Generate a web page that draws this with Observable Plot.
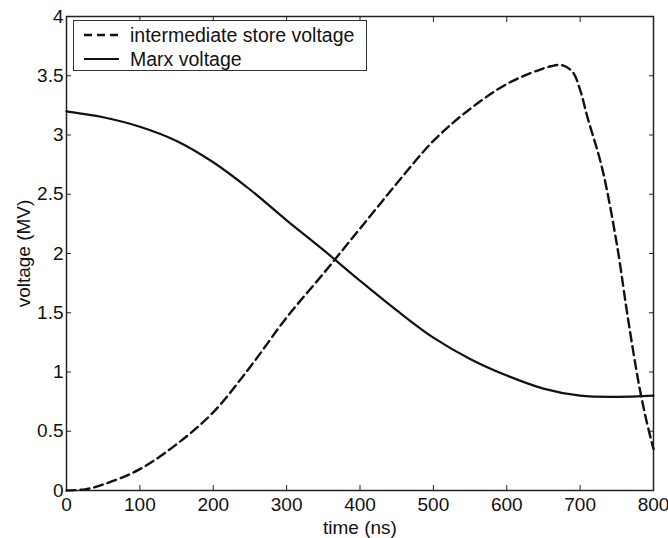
<!DOCTYPE html>
<html>
<head>
<meta charset="utf-8">
<script src="https://cdn.jsdelivr.net/npm/d3@7"></script>
<script src="https://cdn.jsdelivr.net/npm/@observablehq/plot@0.6"></script>
<style>
  html, body { margin: 0; padding: 0; background: #fff; }
  #wrap { position: relative; width: 668px; height: 538px; font-family: "Liberation Sans", Arial, sans-serif; }
  #legend { position: absolute; left: 73px; top: 20px; width: 294px; height: 51px; border: 1.5px solid #333; background: #fff; box-sizing: border-box; font-size: 19.5px; color: #111; }
  #legend .row { position: absolute; left: 0; height: 22px; display: flex; align-items: center; white-space: nowrap; }
  #legend svg { margin-left: 9px; margin-right: 11px; }
</style>
</head>
<body>
<div id="wrap"></div>
<script>
const storeTime = [0, 25, 50, 100, 150, 200, 250, 300, 350, 400, 450, 500, 550, 600, 640, 660, 675, 690, 700, 710, 730, 750, 765, 780, 790, 800];
const storeVoltage = [0, 0.01, 0.05, 0.18, 0.39, 0.66, 1.04, 1.46, 1.83, 2.21, 2.59, 2.95, 3.22, 3.43, 3.54, 3.58, 3.59, 3.53, 3.38, 3.15, 2.72, 2.08, 1.46, 0.9, 0.6, 0.35];
const marxTime = [0, 50, 100, 150, 200, 250, 300, 350, 400, 450, 500, 550, 600, 650, 700, 750, 800];
const marxVoltage = [3.2, 3.15, 3.07, 2.95, 2.77, 2.54, 2.28, 2.03, 1.77, 1.52, 1.29, 1.11, 0.97, 0.86, 0.80, 0.79, 0.80];
const xTicks = [0, 100, 200, 300, 400, 500, 600, 700, 800];
const yTicks = [0, 0.5, 1, 1.5, 2, 2.5, 3, 3.5, 4];
const yTickLabels = ["0", "0.5", "1", "1.5", "2", "2.5", "3", "3.5", "4"];
const seriesNames = ["intermediate store voltage", "Marx voltage"];

const store = storeTime.map((t, i) => ({t, v: storeVoltage[i]}));
const marx = marxTime.map((t, i) => ({t, v: marxVoltage[i]}));

const chart = Plot.plot({
  width: 668,
  height: 538,
  marginLeft: 66,
  marginRight: 15,
  marginTop: 16,
  marginBottom: 48,
  style: {fontFamily: "Liberation Sans, Arial, sans-serif", fontSize: "19px", color: "#111", background: "#fff"},
  x: {domain: [0, 800]},
  y: {domain: [0, 4]},
  marks: [
    Plot.frame({stroke: "#222", strokeWidth: 1.5}),
    Plot.axisX({anchor: "bottom", ticks: xTicks, tickSize: -5, tickPadding: 12, fontSize: 19, label: "time (ns)", labelAnchor: "center", labelArrow: "none", labelOffset: 43, stroke: "#222"}),
    Plot.axisX({anchor: "top", ticks: xTicks, tickSize: -5, tickFormat: () => "", label: null, stroke: "#222"}),
    Plot.axisY({anchor: "left", ticks: yTicks, tickSize: -5, tickPadding: 8, fontSize: 19, tickFormat: (d) => yTickLabels[yTicks.indexOf(d)], label: "voltage (MV)", labelAnchor: "center", labelArrow: "none", labelOffset: 50, stroke: "#222"}),
    Plot.axisY({anchor: "right", ticks: yTicks, tickSize: -5, tickFormat: () => "", label: null, stroke: "#222"}),
    Plot.line(marx, {x: "t", y: "v", curve: "catmull-rom", stroke: "#111", strokeWidth: 2.2}),
    Plot.line(store, {x: "t", y: "v", curve: "catmull-rom", stroke: "#111", strokeWidth: 2.4, strokeDasharray: "9,5"})
  ]
});

const wrap = document.getElementById("wrap");
wrap.appendChild(chart);

const legend = document.createElement("div");
legend.id = "legend";
legend.innerHTML = `
  <div class="row" style="top:3px"><svg width="36" height="10"><line x1="1" y1="5" x2="36" y2="5" stroke="#111" stroke-width="2.4" stroke-dasharray="8,5"/></svg><span>${seriesNames[0]}</span></div>
  <div class="row" style="top:27px"><svg width="36" height="10"><line x1="1" y1="5" x2="36" y2="5" stroke="#111" stroke-width="2.2"/></svg><span>${seriesNames[1]}</span></div>`;
wrap.appendChild(legend);
</script>
</body>
</html>
